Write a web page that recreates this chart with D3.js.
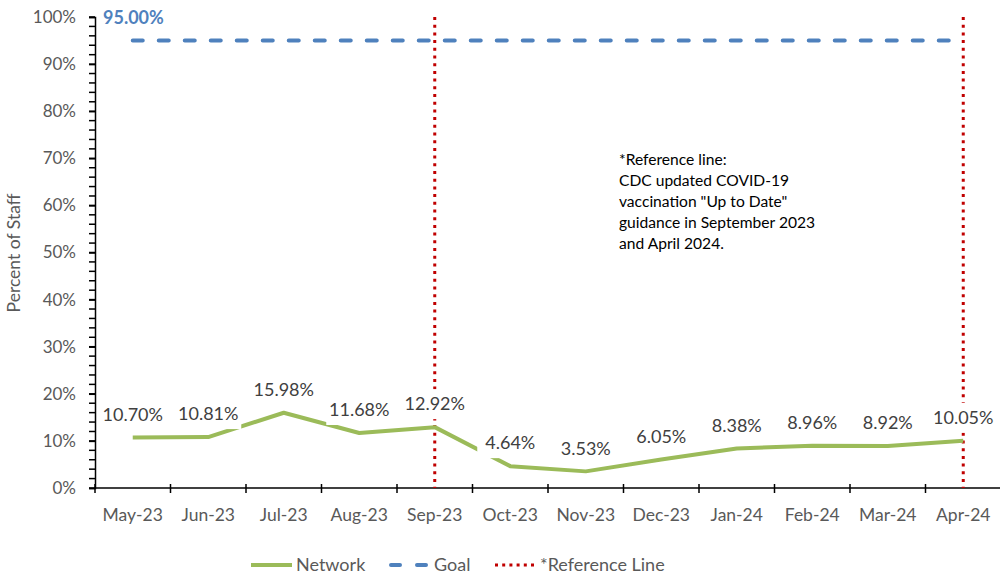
<!DOCTYPE html>
<html>
<head>
<meta charset="utf-8" />
<script src="https://cdn.jsdelivr.net/npm/d3@7"></script>
<style>
  body { margin: 0; background: #fff; }
  text { font-family: Lato, "Open Sans", sans-serif; }
</style>
</head>
<body>
<div id="my_dataviz"></div>
<script>
// Data
const months = ["May-23", "Jun-23", "Jul-23", "Aug-23", "Sep-23", "Oct-23",
                "Nov-23", "Dec-23", "Jan-24", "Feb-24", "Mar-24", "Apr-24"];
const network = [0.1070, 0.1081, 0.1598, 0.1168, 0.1292, 0.0464,
                 0.0353, 0.0605, 0.0838, 0.0896, 0.0892, 0.1005];
const goal = 0.95;
const referenceMonths = ["Sep-23", "Apr-24"];
const yTicks = [0, 0.1, 0.2, 0.3, 0.4, 0.5, 0.6, 0.7, 0.8, 0.9, 1.0];
const noteLines = ["*Reference line:", "CDC updated COVID-19", "vaccination \"Up to Date\"",
                   "guidance in September 2023", "and April 2024."];

const width = 1000, height = 577;
const plotLeft = 95, plotRight = 1001, plotTop = 17, plotBottom = 488;
const grey = "#595959";
const green = "#9BBB59", blue = "#4F81BD", red = "#C00000";

const svg = d3.select("#my_dataviz").append("svg")
    .attr("width", width).attr("height", height);

const x = d3.scaleBand().domain(months).range([plotLeft, plotRight]);
const cx = m => x(m) + x.bandwidth() / 2;
const y = d3.scaleLinear().domain([0, 1]).range([plotBottom, plotTop]);

// Y axis
const yAxis = svg.append("g").attr("transform", `translate(${plotLeft},0)`)
    .call(d3.axisLeft(y).tickValues(yTicks).tickFormat(d3.format(".0%")).tickSize(6).tickPadding(13));
yAxis.select(".domain").attr("stroke", "#000").attr("stroke-width", 1.5);
yAxis.selectAll(".tick line").attr("stroke", "#000").attr("stroke-width", 1.5);
yAxis.selectAll(".tick text").attr("fill", grey).style("font-size", "17px")
    .style("font-family", "Lato, sans-serif");
// minor ticks
svg.append("g").selectAll("line")
    .data(d3.range(0, 1.0001, 0.02))
    .enter().append("line")
    .attr("x1", plotLeft - 6).attr("x2", plotLeft)
    .attr("y1", d => y(d)).attr("y2", d => y(d))
    .attr("stroke", "#000").attr("stroke-width", 1.5);

// X axis
svg.append("line").attr("x1", plotLeft).attr("x2", plotRight).attr("y1", plotBottom).attr("y2", plotBottom)
    .attr("stroke", "#000").attr("stroke-width", 1.5);
const bounds = months.map(m => x(m)).concat([x(months[months.length - 1]) + x.bandwidth()]);
svg.append("g").selectAll("line").data(bounds).enter().append("line")
    .attr("x1", d => d).attr("x2", d => d).attr("y1", plotBottom - 4).attr("y2", plotBottom + 5)
    .attr("stroke", "#000").attr("stroke-width", 1.5);
svg.append("g").selectAll("text").data(months).enter().append("text")
    .attr("x", d => cx(d)).attr("y", 521)
    .attr("text-anchor", "middle").attr("fill", grey).style("font-size", "17.5px")
    .text(d => d);

// Y title
svg.append("text")
    .attr("transform", "translate(20,253) rotate(-90)")
    .attr("text-anchor", "middle").attr("fill", grey).style("font-size", "17.5px")
    .text("Percent of Staff");

// Goal line
svg.append("line")
    .attr("x1", cx(months[0])).attr("x2", cx(months[months.length - 1]))
    .attr("y1", y(goal)).attr("y2", y(goal))
    .attr("stroke", blue).attr("stroke-width", 4)
    .attr("stroke-linecap", "round").attr("stroke-dasharray", "10,16");
svg.append("text")
    .attr("x", 103).attr("y", 24)
    .attr("fill", blue).style("font-size", "18px").style("font-weight", "bold")
    .text(d3.format(".2%")(goal));

// Reference lines
svg.append("g").selectAll("line").data(referenceMonths).enter().append("line")
    .attr("x1", d => cx(d)).attr("x2", d => cx(d))
    .attr("y1", y(1)).attr("y2", y(0))
    .attr("stroke", red).attr("stroke-width", 3)
    .attr("stroke-dasharray", "3,4.7");

// Network line
svg.append("path")
    .datum(network)
    .attr("fill", "none").attr("stroke", green).attr("stroke-width", 4)
    .attr("stroke-linejoin", "round")
    .attr("d", d3.line().x((d, i) => cx(months[i])).y(d => y(d)));

// Data labels with white boxes
const fmt = d3.format(".2%");
const labels = svg.append("g").selectAll("g").data(network).enter().append("g")
    .attr("transform", (d, i) => `translate(${cx(months[i])},${y(d) - 23})`);
labels.append("rect")
    .attr("x", -33).attr("y", -15).attr("width", 66).attr("height", 30)
    .attr("fill", "#fff");
labels.append("text")
    .attr("text-anchor", "middle").attr("dy", "0.35em")
    .attr("fill", "#404040").style("font-size", "18px")
    .text(d => fmt(d));

// Note
svg.append("g").selectAll("text").data(noteLines).enter().append("text")
    .attr("x", 619).attr("y", (d, i) => 165 + i * 21)
    .attr("fill", "#000").style("font-size", "15.6px")
    .text(d => d);

// Legend
const lg = svg.append("g").attr("transform", "translate(0,565)");
lg.append("line").attr("x1", 251).attr("x2", 292).attr("stroke", green).attr("stroke-width", 4);
lg.append("text").attr("x", 296).attr("y", 6).attr("fill", grey).style("font-size", "18px").text("Network");
lg.append("line").attr("x1", 391).attr("x2", 428).attr("stroke", blue).attr("stroke-width", 4)
    .attr("stroke-linecap", "round").attr("stroke-dasharray", "9,17");
lg.append("text").attr("x", 434).attr("y", 6).attr("fill", grey).style("font-size", "18px").text("Goal");
lg.append("line").attr("x1", 495).attr("x2", 536).attr("stroke", red).attr("stroke-width", 3)
    .attr("stroke-dasharray", "3,4.2");
lg.append("text").attr("x", 540).attr("y", 6).attr("fill", grey).style("font-size", "18px").text("*Reference Line");
</script>
</body>
</html>
